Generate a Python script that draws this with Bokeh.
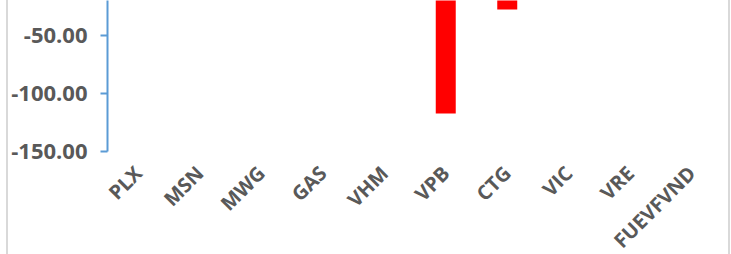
import math
from bokeh.plotting import figure
from bokeh.models import (ColumnDataSource, FactorRange, Range1d, FixedTicker,
                          NumeralTickFormatter, CDSView, BooleanFilter)
from bokeh.embed import file_html
from bokeh.resources import INLINE

# Data (only the negative part of the chart is visible in the reference)
categories = ["PLX", "MSN", "MWG", "GAS", "VHM", "VPB", "CTG", "VIC", "VRE", "FUEVFVND"]
values = [0.0, 0.0, 0.0, 0.0, 0.0, -117.2, -27.5, 0.0, 0.0, 0.0]
y_ticks = [-150, -100, -50, 0]

source = ColumnDataSource(data=dict(cat=categories, val=values))
view = CDSView(filter=BooleanFilter([v != 0 for v in values]))

p = figure(
    x_range=FactorRange(factors=categories),
    y_range=Range1d(-150, -19.8),
    frame_width=615, frame_height=151,
    min_border_left=99, min_border_right=6, min_border_top=0, min_border_bottom=103,
    output_backend="svg", toolbar_location=None,
)
p.styles = {"margin-left": "6px",
            "border-left": "2px solid #d9d9d9", "border-right": "2px solid #d9d9d9"}

p.vbar(x="cat", top="val", width=0.325, fill_color="#FF0000", line_color=None,
       source=source, view=view)

p.outline_line_color = None
p.xgrid.grid_line_color = None
p.ygrid.grid_line_color = None
p.background_fill_color = "white"
p.border_fill_color = "white"

# y axis
p.yaxis.ticker = FixedTicker(ticks=y_ticks)
p.yaxis.formatter = NumeralTickFormatter(format="0.00")
p.yaxis.axis_line_color = "#5B9BD5"
p.yaxis.axis_line_width = 2
p.yaxis.major_tick_line_color = "#5B9BD5"
p.yaxis.major_tick_line_width = 2
p.yaxis.major_tick_out = 7
p.yaxis.major_tick_in = 0
p.yaxis.minor_tick_line_color = None
p.yaxis.major_label_standoff = 13
p.yaxis.major_label_text_font = "Open Sans"
p.yaxis.major_label_text_font_style = "bold"
p.yaxis.major_label_text_font_size = "22px"
p.yaxis.major_label_text_color = "#595959"

# x axis
p.xaxis.axis_line_color = None
p.xaxis.major_tick_line_color = None
p.xaxis.minor_tick_line_color = None
p.xaxis.major_label_orientation = math.pi / 4
p.xaxis.major_label_standoff = 12
p.xaxis.major_label_text_font = "Open Sans"
p.xaxis.major_label_text_font_style = "bold"
p.xaxis.major_label_text_font_size = "20px"
p.xaxis.major_label_text_color = "#595959"

open("out.html", "w").write(file_html(p, INLINE))
